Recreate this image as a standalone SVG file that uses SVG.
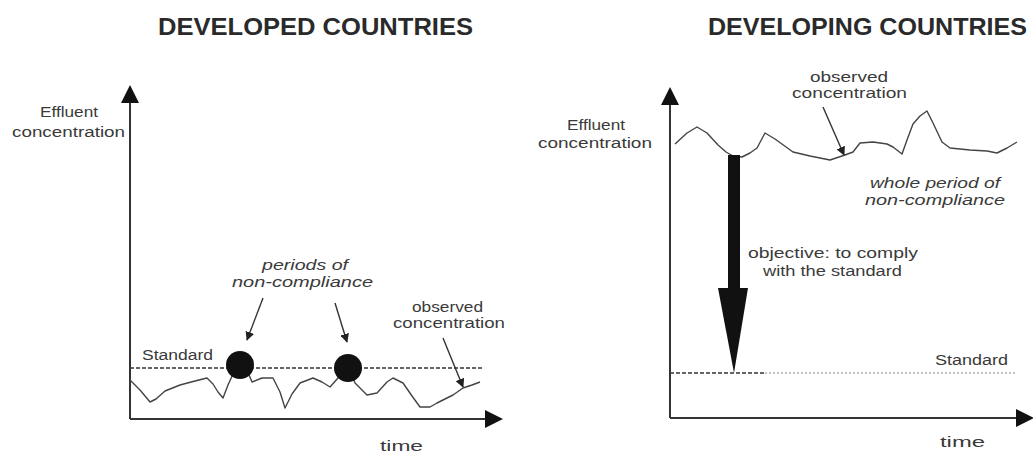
<svg xmlns="http://www.w3.org/2000/svg" width="1033" height="453" viewBox="0 0 1033 453">
<defs>
<marker id="ah" viewBox="0 0 10 10" refX="9" refY="5" markerWidth="9" markerHeight="9" markerUnits="userSpaceOnUse" orient="auto">
<path d="M0,0 L10,5 L0,10 Z" fill="#222"/>
</marker>
</defs>
<style>
.title{font-family:"Liberation Sans",Arial,sans-serif;font-weight:bold;font-size:24px;fill:#2a2a2a}
.lbl{font-family:"Liberation Sans",Arial,sans-serif;font-size:14px;fill:#3a3a3a}
.it{font-style:italic}
.axis{stroke:#333;stroke-width:2;fill:none}
.head{fill:#111}
.curve{stroke:#444;stroke-width:1.4;fill:none;stroke-linejoin:round}
.std{stroke:#333;stroke-width:1.4;stroke-dasharray:4 2;fill:none}
.dot{stroke:#888;stroke-width:1.2;stroke-dasharray:2 2;fill:none}
.lead{stroke:#333;stroke-width:1.4;fill:none}
</style>
<rect width="1033" height="453" fill="#fff"/>

<g id="left-panel">
<text class="title" x="158" y="35" textLength="315" lengthAdjust="spacingAndGlyphs">DEVELOPED COUNTRIES</text>
<g id="left-axes">
<path class="axis" d="M130,419 V100 M130,419 H488"/>
<path class="head" d="M121,103 L130,85 L139,103 Z"/>
<path class="head" d="M485,410 L503,419 L485,428 Z"/>
</g>
<text class="lbl" x="40" y="117" textLength="58" lengthAdjust="spacingAndGlyphs">Effluent</text>
<text class="lbl" x="12" y="137" textLength="113" lengthAdjust="spacingAndGlyphs">concentration</text>
<text class="lbl" x="380" y="451" textLength="43" lengthAdjust="spacingAndGlyphs">time</text>
<g id="left-standard">
<path class="std" d="M130,368 H482"/>
<text class="lbl" x="142" y="360" textLength="71" lengthAdjust="spacingAndGlyphs">Standard</text>
</g>
<path id="left-curve" class="curve" d="M130,380 L140,390 L150,402 L156,399 L165,391 L180,385 L195,381 L207,378 L213,384 L218,392 L223,398 L228,385 L233,374 L240,366 L247,370 L252,382 L262,378 L273,378 L280,392 L285,408 L292,394 L300,383 L313,378 L322,382 L330,387 L338,378 L348,367 L352,375 L355,383 L362,390 L367,395 L377,393 L387,382 L393,378 L403,383 L412,396 L420,407 L430,407 L437,403 L443,400 L453,395 L463,388 L472,385 L480,382"/>
<g id="left-nc">
<circle cx="240" cy="365" r="14" fill="#111"/>
<circle cx="348" cy="368" r="14" fill="#111"/>
</g>
<text class="lbl it" x="262" y="270" textLength="86" lengthAdjust="spacingAndGlyphs">periods of</text>
<text class="lbl it" x="232" y="287" textLength="141" lengthAdjust="spacingAndGlyphs">non-compliance</text>
<text class="lbl" x="412" y="312" textLength="71" lengthAdjust="spacingAndGlyphs">observed</text>
<text class="lbl" x="393" y="328" textLength="112" lengthAdjust="spacingAndGlyphs">concentration</text>
</g>

<g id="right-panel">
<text class="title" x="708" y="35" textLength="319" lengthAdjust="spacingAndGlyphs">DEVELOPING COUNTRIES</text>
<g id="right-axes">
<path class="axis" d="M670,418 V102 M670,418 H1020"/>
<path class="head" d="M661,105 L670,87 L679,105 Z"/>
<path class="head" d="M1016,409 L1034,418 L1016,427 Z"/>
</g>
<text class="lbl" x="567" y="130" textLength="58" lengthAdjust="spacingAndGlyphs">Effluent</text>
<text class="lbl" x="538" y="148" textLength="114" lengthAdjust="spacingAndGlyphs">concentration</text>
<text class="lbl" x="940" y="447" textLength="45" lengthAdjust="spacingAndGlyphs">time</text>
<g id="right-standard">
<path class="std" d="M670,373 H765"/>
<path class="dot" d="M765,373 H1017"/>
<text class="lbl" x="935" y="365" textLength="73" lengthAdjust="spacingAndGlyphs">Standard</text>
</g>
<path id="right-curve" class="curve" d="M675,144 L687,133 L697,127 L707,133 L718,145 L726,152 L733,156 L742,157 L750,153 L757,148 L765,133 L775,139 L793,152 L810,156 L830,160 L845,155 L853,152 L860,143 L873,142 L887,144 L893,147 L902,154 L907,140 L913,124 L920,116 L927,111 L933,123 L942,142 L950,148 L970,150 L987,151 L997,153 L1007,148 L1017,142"/>
<g id="big-arrow">
<rect x="728" y="155" width="12" height="134" fill="#111"/>
<path d="M718,288 L748,288 L734,373 Z" fill="#111"/>
</g>
<text class="lbl" x="810" y="82" textLength="78" lengthAdjust="spacingAndGlyphs">observed</text>
<text class="lbl" x="792" y="98" textLength="115" lengthAdjust="spacingAndGlyphs">concentration</text>
<text class="lbl it" x="870" y="188" textLength="130" lengthAdjust="spacingAndGlyphs">whole period of</text>
<text class="lbl it" x="865" y="205" textLength="140" lengthAdjust="spacingAndGlyphs">non-compliance</text>
<text class="lbl" x="748" y="258" textLength="170" lengthAdjust="spacingAndGlyphs">objective: to comply</text>
<text class="lbl" x="763" y="276" textLength="139" lengthAdjust="spacingAndGlyphs">with the standard</text>
</g>

<g id="connectors">
<path class="lead" d="M263,298 L247,340" marker-end="url(#ah)"/>
<path class="lead" d="M335,303 L347,342" marker-end="url(#ah)"/>
<path class="lead" d="M443,338 L463,387" marker-end="url(#ah)"/>
<path class="lead" d="M823,107 L844,155" marker-end="url(#ah)"/>
</g>
</svg>
